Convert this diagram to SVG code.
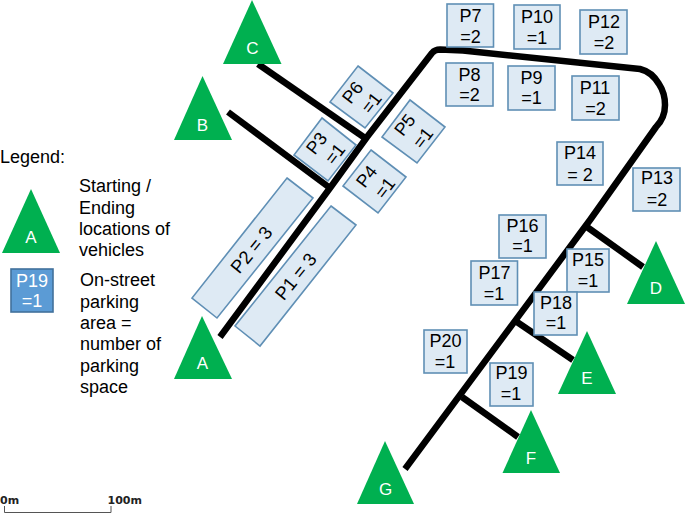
<svg xmlns="http://www.w3.org/2000/svg" width="685" height="514" viewBox="0 0 685 514">
<style>
  text { font-family: "Liberation Sans", Arial, sans-serif; font-size: 18px; fill: #000; }
  .c { text-anchor: middle; }
  .w { fill: #fff; }
  .tl { font-size: 17px; }
  .long { font-size: 18.5px; }
  .site { fill: #00b050; }
  .lot { fill: #deeaf4; stroke: #5f8fb5; stroke-width: 1.6; }
  .key { fill: #5b9bd5; stroke: #41719c; stroke-width: 1.6; }
  .road { fill: none; stroke: #000; stroke-width: 6.5; stroke-linejoin: round; stroke-linecap: butt; }
  .scale { font-family: "DejaVu Sans", sans-serif; font-weight: bold; font-size: 11px; fill: #222; }
</style>
<g id="connectors">
  <path class="road" d="M220 337L330 188L367 137L432 53Q435 49.500 440 49.500L463 50.500L640 69Q652 72 659 84Q665 93 665 105Q665 118 656 127L590 220L405 469"/>
  <path class="road" d="M258 64L365 138"/>
  <path class="road" d="M228 112L330 188"/>
  <path class="road" d="M587 227L643 267"/>
  <path class="road" d="M517 322L573 360"/>
  <path class="road" d="M462 397L518 437"/>
</g>
<g id="site-A"><polygon class="site" points="202,316 232,379 174,379"/><text class="c w tl" x="202.500" y="369">A</text></g>
<g id="site-B"><polygon class="site" points="202.500,76 232,140 174,140"/><text class="c w tl" x="202.500" y="130.500">B</text></g>
<g id="site-C"><polygon class="site" points="252,0 281.500,64 223,64"/><text class="c w tl" x="252.500" y="54">C</text></g>
<g id="site-D"><polygon class="site" points="656,241 685,304 627,304"/><text class="c w tl" x="656" y="294">D</text></g>
<g id="site-E"><polygon class="site" points="587,331 616,394 558,394"/><text class="c w tl" x="587" y="384">E</text></g>
<g id="site-F"><polygon class="site" points="531,410 560,473 502.500,473"/><text class="c w tl" x="531" y="464">F</text></g>
<g id="site-G"><polygon class="site" points="385,441 414,504 357,504"/><text class="c w tl" x="385.500" y="495">G</text></g>

<g id="lot-P1"><polygon class="lot" points="331,206 356,225 260,346 235,326"/><text class="c long" transform="translate(296 276.700) rotate(-51)" y="6">P1 = 3</text></g>
<g id="lot-P2"><polygon class="lot" points="287,178 313,198 217,318 192,298"/><text class="c long" transform="translate(251.700 250) rotate(-51)" y="6">P2 = 3</text></g>
<g id="lot-P3"><polygon class="lot" points="322,118 356,145 328,181 294,155"/><text class="c" transform="translate(316.700 143.300) rotate(-52)" y="6">P3</text><text class="c" transform="translate(335 154) rotate(-52)" y="6">=1</text></g>
<g id="lot-P4"><polygon class="lot" points="371,150 406,177 378,213 343,186"/><text class="c" transform="translate(366.700 176.700) rotate(-52)" y="6">P4</text><text class="c" transform="translate(385 188) rotate(-52)" y="6">=1</text></g>
<g id="lot-P5"><polygon class="lot" points="410,100 445,127 417,163 382,137"/><text class="c" transform="translate(405 125) rotate(-52)" y="6">P5</text><text class="c" transform="translate(423 138) rotate(-52)" y="6">=1</text></g>
<g id="lot-P6"><polygon class="lot" points="358,66 393,93 365,128 330,102"/><text class="c" transform="translate(352.700 92.700) rotate(-52)" y="6">P6</text><text class="c" transform="translate(371.700 103) rotate(-52)" y="6">=1</text></g>

<g id="lot-P7"><rect class="lot" x="447" y="4" width="46.500" height="43"/><text class="c" x="470.500" y="22">P7</text><text class="c" x="470.500" y="43">=2</text></g>
<g id="lot-P8"><rect class="lot" x="446" y="63" width="47" height="43"/><text class="c" x="469.500" y="80.700">P8</text><text class="c" x="469.500" y="101">=2</text></g>
<g id="lot-P9"><rect class="lot" x="508" y="66" width="47" height="44"/><text class="c" x="531.500" y="84">P9</text><text class="c" x="531.500" y="104">=1</text></g>
<g id="lot-P10"><rect class="lot" x="514" y="5" width="46" height="44"/><text class="c" x="537" y="23">P10</text><text class="c" x="537" y="44">=1</text></g>
<g id="lot-P11"><rect class="lot" x="572" y="76" width="47" height="44"/><text class="c" x="595" y="94">P11</text><text class="c" x="595.500" y="115">=2</text></g>
<g id="lot-P12"><rect class="lot" x="580" y="10" width="47" height="44"/><text class="c" x="604" y="27.700">P12</text><text class="c" x="604" y="49">=2</text></g>
<g id="lot-P13"><rect class="lot" x="633" y="168" width="47" height="43"/><text class="c" x="657" y="184">P13</text><text class="c" x="657" y="205.700">=2</text></g>
<g id="lot-P14"><rect class="lot" x="557" y="142" width="46" height="43"/><text class="c" x="580" y="159">P14</text><text class="c" x="580" y="181">= 2</text></g>
<g id="lot-P15"><rect class="lot" x="567" y="249" width="42" height="43"/><text class="c" x="588" y="265.700">P15</text><text class="c" x="588" y="286.700">=1</text></g>
<g id="lot-P16"><rect class="lot" x="499" y="215" width="47" height="43"/><text class="c" x="522.500" y="231.700">P16</text><text class="c" x="522.500" y="252">=1</text></g>
<g id="lot-P17"><rect class="lot" x="471" y="261" width="46.500" height="44"/><text class="c" x="494.500" y="279">P17</text><text class="c" x="494" y="300">=1</text></g>
<g id="lot-P18"><rect class="lot" x="534" y="292" width="43" height="43"/><text class="c" x="556" y="309">P18</text><text class="c" x="556" y="329">=1</text></g>
<g id="lot-P19"><rect class="lot" x="490" y="363" width="43" height="43"/><text class="c" x="511.500" y="379">P19</text><text class="c" x="511" y="400">=1</text></g>
<g id="lot-P20"><rect class="lot" x="424" y="330" width="43" height="43"/><text class="c" x="445.500" y="347">P20</text><text class="c" x="445" y="367.700">=1</text></g>

<g id="legend">
  <text x="0" y="163">Legend:</text>
  <polygon class="site" points="31,189 60,253 2,253"/>
  <text class="c w tl" x="31" y="243">A</text>
  <text x="79" y="192">Starting /</text>
  <text x="79" y="213.500">Ending</text>
  <text x="79" y="235">locations of</text>
  <text x="79" y="256">vehicles</text>
  <rect class="key" x="11" y="269" width="42" height="43"/>
  <text class="c w" x="32" y="287">P19</text>
  <text class="c w" x="32" y="307">=1</text>
  <text x="80" y="286">On-street</text>
  <text x="80" y="308">parking</text>
  <text x="80" y="329">area =</text>
  <text x="80" y="350">number of</text>
  <text x="80" y="371.500">parking</text>
  <text x="80" y="393">space</text>
</g>
<g id="scale-bar">
  <text class="scale" x="0" y="504">0m</text>
  <text class="scale" x="107.500" y="504">100m</text>
  <path d="M4.500 506V512.500H111V506" fill="none" stroke="#555" stroke-width="1"/>
</g>
</svg>
